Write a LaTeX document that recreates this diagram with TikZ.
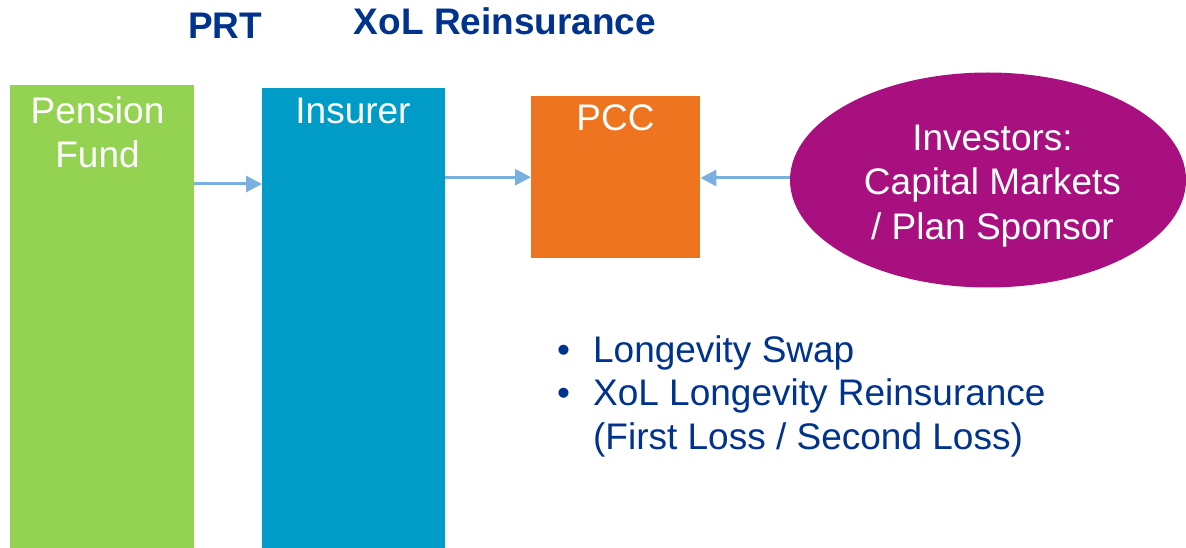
\documentclass[tikz,border=0pt]{standalone}
\usepackage{fontspec}
\setmainfont{Liberation Sans}
\usetikzlibrary{arrows.meta,shapes.geometric}
\definecolor{fundgreen}{HTML}{94D351}
\definecolor{insblue}{HTML}{009CC8}
\definecolor{pccorange}{HTML}{EE7420}
\definecolor{invmagenta}{HTML}{A9107F}
\definecolor{navytext}{HTML}{00338D}
\definecolor{flowblue}{HTML}{7AB0E0}
\tikzset{
  block/.style={draw=none, inner sep=0pt, anchor=north west},
  whitelabel/.style={text=white, font=\fontsize{37}{44.3}\selectfont, inner sep=0pt, align=center, anchor=north},
  heading/.style={text=navytext, font=\fontsize{37}{44.3}\selectfont\bfseries, inner sep=0pt, anchor=base},
  flow/.style={draw=flowblue, line width=3pt, -{Triangle[length=16pt,width=16pt]}}
}
\begin{document}
\begin{tikzpicture}[x=1pt,y=-1pt]
\useasboundingbox[fill=white] (0,0) rectangle (1186,548);

% headings
\node[heading] (prt) at (225,39) {PRT};
\node[heading] (xol) at (505,35) {XoL Reinsurance};

% blocks
\node[block, fill=fundgreen, minimum width=184pt, minimum height=463pt] (fund) at (10,85) {};
\node[block, fill=insblue, minimum width=183pt, minimum height=460pt] (ins) at (262,88) {};
\node[block, fill=pccorange, minimum width=169pt, minimum height=162pt] (pcc) at (531,96) {};
\node[ellipse, fill=invmagenta, minimum width=396pt, minimum height=215pt, inner sep=0pt] (inv) at (988,180) {};

% block labels
\node[whitelabel] (fundtxt) at (97.5,96) {Pension\\Fund};
\node[whitelabel] (instxt) at (353,98) {Insurer};
\node[whitelabel] (pcctxt) at (615.5,104) {PCC};
\node[whitelabel] (invtxt) at (992.5,125) {Investors:\\Capital Markets\\/ Plan Sponsor};

% flows
\draw[flow] (fund.east |- 0,184) -- (ins.west |- 0,184);
\draw[flow] (ins.east |- pcc.west) -- (pcc.west);
\draw[flow] (inv.west |- 0,178) -- (pcc.east |- 0,178);

% products
\node[text=navytext, font=\fontsize{37}{43.5}\selectfont, inner sep=0pt, anchor=base west] (list) at (557,362)
  {\begin{tabular}[t]{@{}l@{\hspace{23pt}}l@{}}
   \textbullet & Longevity Swap\\
   \textbullet & XoL Longevity Reinsurance\\
               & (First Loss / Second Loss)
   \end{tabular}};
\end{tikzpicture}
\end{document}
